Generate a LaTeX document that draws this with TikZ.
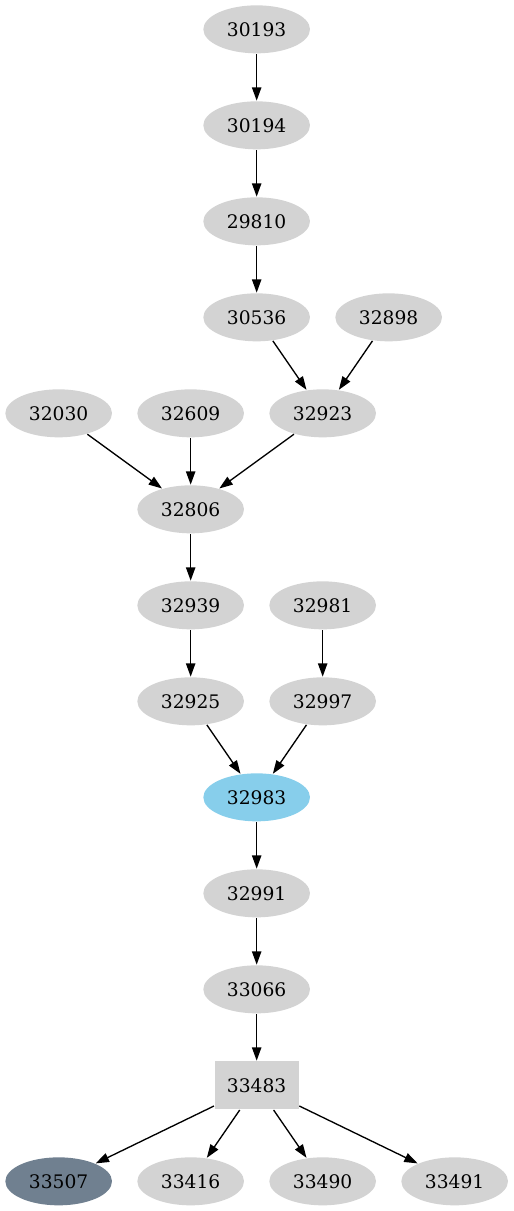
\documentclass[tikz,border=0pt]{standalone}
\usepackage{fontspec}
\setmainfont{DejaVu Serif}
\usetikzlibrary{positioning,shapes.geometric,arrows.meta}
\definecolor{lightgrey}{HTML}{D3D3D3}
\definecolor{skyblue}{HTML}{87CEEB}
\definecolor{slategrey}{HTML}{708090}
\tikzset{
  job/.style={ellipse, fill=lightgrey, minimum width=80pt, minimum height=36pt, inner sep=0pt},
  jobbox/.style={rectangle, fill=lightgrey, minimum width=63pt, minimum height=36pt, inner sep=0pt},
}
\begin{document}
\begin{tikzpicture}[node distance={72pt and 99pt}, on grid, line width=1pt,
    every node/.style={job, font=\fontsize{14}{17}\selectfont},
    >={Triangle[length=10pt, width=7pt]}]
        \useasboundingbox (-192.5pt,22pt) rectangle (193pt,-886.25pt);

        \node (30193) {30193};
        \node (30194) [below=of 30193] {30194};
        \node (29810) [below=of 30194] {29810};
        \node (30536) [below=of 29810] {30536};
        \node (32898) [right=of 30536] {32898};

        \node (32923) [below right=72pt and 49.5pt of 30536] {32923};
        \node (32609) [left=of 32923] {32609};
        \node (32030) [left=of 32609] {32030};
        \node (32806) [below=of 32609] {32806};
        \node (32939) [below=of 32806] {32939};
        \node (32981) [right=of 32939] {32981};
        \node (32925) [below=of 32939] {32925};
        \node (32997) [below=of 32981] {32997};

        \node (32983) [below right=72pt and 49.5pt of 32925, fill=skyblue] {32983};
        \node (32991) [below=of 32983] {32991};
        \node (33066) [below=of 32991] {33066};
        \node (33483) [below=of 33066, jobbox] {33483};
        \node (33416) [below left=72pt and 49.5pt of 33483] {33416};
        \node (33507) [left=of 33416, fill=slategrey] {33507};
        \node (33490) [right=of 33416] {33490};
        \node (33491) [right=of 33490] {33491};

        \draw[->] (30193) to (30194);
        \draw[->] (30194) to (29810);
        \draw[->] (29810) to (30536);
        \draw[->] (30536) to (32923);
        \draw[->] (32898) to (32923);

        \draw[->] (32030) to (32806);
        \draw[->] (32609) to (32806);
        \draw[->] (32923) to (32806);
        \draw[->] (32806) to (32939);
        \draw[->] (32939) to (32925);
        \draw[->] (32981) to (32997);
        \draw[->] (32925) to (32983);
        \draw[->] (32997) to (32983);

        \draw[->] (32983) to (32991);
        \draw[->] (32991) to (33066);
        \draw[->] (33066) to (33483);
        \draw[->] (33483) to (33507);
        \draw[->] (33483) to (33416);
        \draw[->] (33483) to (33490);
        \draw[->] (33483) to (33491);

      \end{tikzpicture}
\end{document}
